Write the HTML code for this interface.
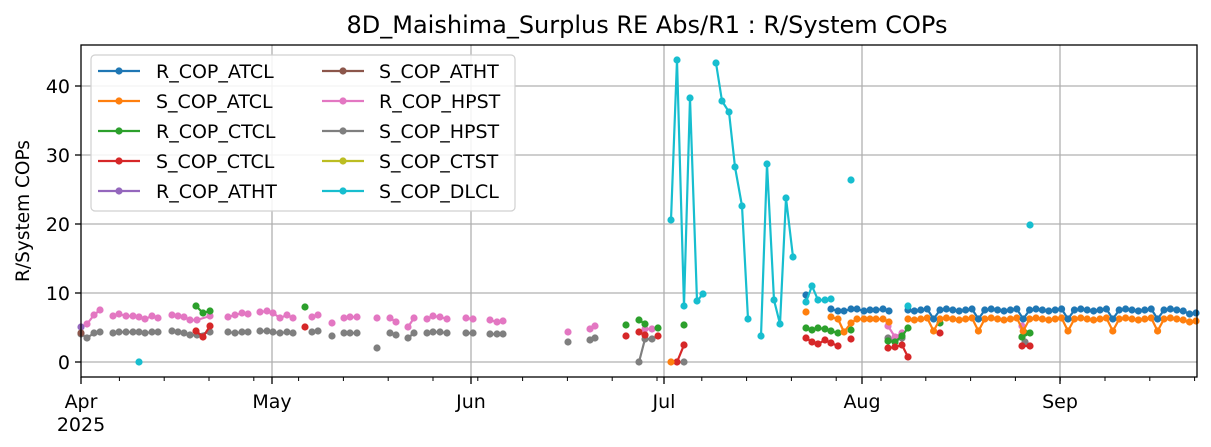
<!DOCTYPE html>
<html><head><meta charset="utf-8"><style>
html,body{margin:0;padding:0;background:#fff;}
svg{display:block;font-family:"DejaVu Sans","Liberation Sans",sans-serif;}
</style></head><body>
<svg id="s" width="1211" height="447" xmlns="http://www.w3.org/2000/svg">
<rect width="1211" height="447" fill="#fff"/>
<text x="647" y="33" font-size="24" text-anchor="middle" fill="#000">8D_Maishima_Surplus RE Abs/R1 : R/System COPs</text>
<text transform="translate(29,211) rotate(-90)" font-size="18.5" text-anchor="middle" fill="#000">R/System COPs</text>
<g id="grid" stroke="#b0b0b0" stroke-width="1.3"></g>
<g id="data"></g>
<rect x="81" y="45" width="1116" height="332" fill="none" stroke="#000" stroke-width="1.3"/>
<g id="ticks" font-size="19" fill="#000"></g>
<g id="leg"></g>
</svg>
<script>
const NS="http://www.w3.org/2000/svg";
function el(p,t,a,txt){const e=document.createElementNS(NS,t);for(const k in a)e.setAttribute(k,a[k]);if(txt!==undefined)e.textContent=txt;p.appendChild(e);return e;}
const grid=document.getElementById('grid'),ticks=document.getElementById('ticks'),data=document.getElementById('data'),leg=document.getElementById('leg');
const yv=v=>362-6.9*v;
[0,10,20,30,40].forEach(v=>{const y=yv(v);el(grid,'line',{x1:81,x2:1197,y1:y,y2:y});
 el(ticks,'line',{x1:75,x2:81,y1:y,y2:y,stroke:'#000','stroke-width':1.3});
 el(ticks,'text',{x:70,y:y+7,'text-anchor':'end'},String(v));});
const months=[[81,'Apr'],[272,'May'],[471,'Jun'],[664,'Jul'],[862,'Aug'],[1060,'Sep']];
months.forEach(([x,l])=>{ if(x>81) el(grid,'line',{x1:x,x2:x,y1:45,y2:377});
 el(ticks,'line',{x1:x,x2:x,y1:377,y2:384,stroke:'#000','stroke-width':1.3});
 el(ticks,'text',{x:x,y:408,'text-anchor':'middle'},l);});
el(ticks,'text',{x:81,y:431,'text-anchor':'middle'},'2025');
for(let d=6;d<175;d+=7){const x=81+6.4*d;el(ticks,'line',{x1:x,x2:x,y1:377,y2:381,stroke:'#000','stroke-width':1});}
const C={b:'#1f77b4',o:'#ff7f0e',g:'#2ca02c',r:'#d62728',p:'#9467bd',br:'#8c564b',pk:'#e377c2',gr:'#7f7f7f',ol:'#bcbd22',c:'#17becf'};
function series(col,segs){segs.forEach(s=>{if(s.length>1)el(data,'polyline',{points:s.map(p=>p.join(',')).join(' '),fill:'none',stroke:col,'stroke-width':2.2,'stroke-linejoin':'round'});
 s.forEach(p=>el(data,'circle',{cx:p[0],cy:p[1],r:3.6,fill:col}));});}
const B1=[],O1=[];
[831,838,844,851,857,864,870,876,883,889].forEach((x,i)=>{B1.push([x,[309,311,311,309,309,311,310,310,309,311][i]]);O1.push([x,[317,319,332,323,319,319,319,319,319,322][i]]);});
const B2=[],O2=[];
for(let k=0;k<=45;k++){const x=908+6.4*k;const dip=(k%7===4);const jit=[0,1,0,-1,1,0,-1][k%7];
 B2.push([x,dip?319:310+jit+(k>43?4:0)]);O2.push([x,dip?331:319+jit+(k>43?3:0)]);}
series(C.gr,[[[81,334],[87,338],[94,333],[100,332]],[[113,333],[119,332],[126,332],[133,332],[139,332],[145,333],[152,332],[158,332]],[[172,331],[178,332],[184,333],[190,335],[197,335],[210,332]],[[228,332],[235,333],[242,332],[248,332]],[[260,331],[267,331],[273,332],[280,333],[287,332],[293,333]],[[312,332],[318,331]],[[332,336]],[[344,333],[350,333],[357,333]],[[377,348]],[[390,333],[396,335]],[[408,338],[414,333]],[[427,333],[433,332],[440,332],[447,333]],[[466,333],[473,333]],[[490,334],[497,334],[503,334]],[[568,342]],[[590,340],[595,338]],[[639,362],[645,339],[652,339]],[[684,362]],[[888,338],[895,341],[902,338]],[[1022,337],[1025,342]]]);
series(C.pk,[[[87,324],[94,315],[100,310]],[[113,316],[119,314],[126,316],[133,316],[139,317],[145,319],[152,316],[158,318]],[[172,315],[178,316],[184,317],[190,320],[197,320],[210,316]],[[228,317],[235,315],[242,313],[248,314]],[[260,312],[267,311],[273,313],[280,318],[287,315],[293,318]],[[312,317],[318,315]],[[332,323]],[[344,318],[350,317],[357,317]],[[377,318]],[[390,318],[396,322]],[[408,327],[414,318]],[[427,319],[433,316],[440,317],[447,319]],[[466,318],[473,319]],[[490,320],[497,322],[503,321]],[[568,332]],[[590,329],[595,326]],[[645,329],[652,329]],[[888,326],[895,337],[902,333]],[[1022,326]]]);
series(C.p,[[[81,327]]]);series(C.br,[[[81,333]]]);
series(C.g,[[[196,306],[203,313],[210,311]],[[305,307]],[[626,325]],[[639,320],[645,324]],[[658,328]],[[684,325]],[[806,328],[812,330],[818,328],[825,329],[831,331],[838,333]],[[851,330]],[[888,341],[895,342],[902,336],[908,328]],[[940,323]],[[1022,337],[1025,333],[1030,333]]]);
series(C.r,[[[196,331],[203,337],[210,326]],[[305,327]],[[626,336]],[[639,332],[645,335]],[[658,336]],[[677,362],[684,345]],[[806,338],[812,342],[818,344],[825,340],[831,343],[838,346]],[[851,339]],[[888,348],[895,347],[902,345],[908,357]],[[940,333]],[[1022,346],[1030,346]]]);
series(C.o,[[[671,362]],[[806,312]],O1,O2]);
series(C.b,[[[806,295]],B1,B2]);
series(C.c,[[[139,362]],[[671,220],[677,60],[684,306],[690,98],[697,301],[703,294]],[[716,63],[722,101],[729,112],[735,167],[742,206],[748,319]],[[761,336],[767,164],[774,300],[780,324],[786,198],[793,257]],[[806,302],[812,286],[818,300],[825,300],[831,299]],[[851,180]],[[908,306]],[[1030,225]]]);
el(leg,'rect',{x:91,y:55,width:424,height:156,rx:4,fill:'#fff','fill-opacity':0.85,stroke:'#d0d0d0','stroke-width':1.2});
const L1=[['R_COP_ATCL',C.b],['S_COP_ATCL',C.o],['R_COP_CTCL',C.g],['S_COP_CTCL',C.r],['R_COP_ATHT',C.p]];
const L2=[['S_COP_ATHT',C.br],['R_COP_HPST',C.pk],['S_COP_HPST',C.gr],['S_COP_CTST',C.ol],['S_COP_DLCL',C.c]];
[[L1,98,156],[L2,322,379]].forEach(([L,x0,tx])=>L.forEach(([n,c],i)=>{const y=71+30*i;
 el(leg,'line',{x1:x0,x2:x0+42,y1:y,y2:y,stroke:c,'stroke-width':2.2});
 el(leg,'circle',{cx:x0+21,cy:y,r:3.6,fill:c});
 el(leg,'text',{x:tx,y:y+7,'font-size':19,fill:'#000'},n);}));
</script>
</body></html>
